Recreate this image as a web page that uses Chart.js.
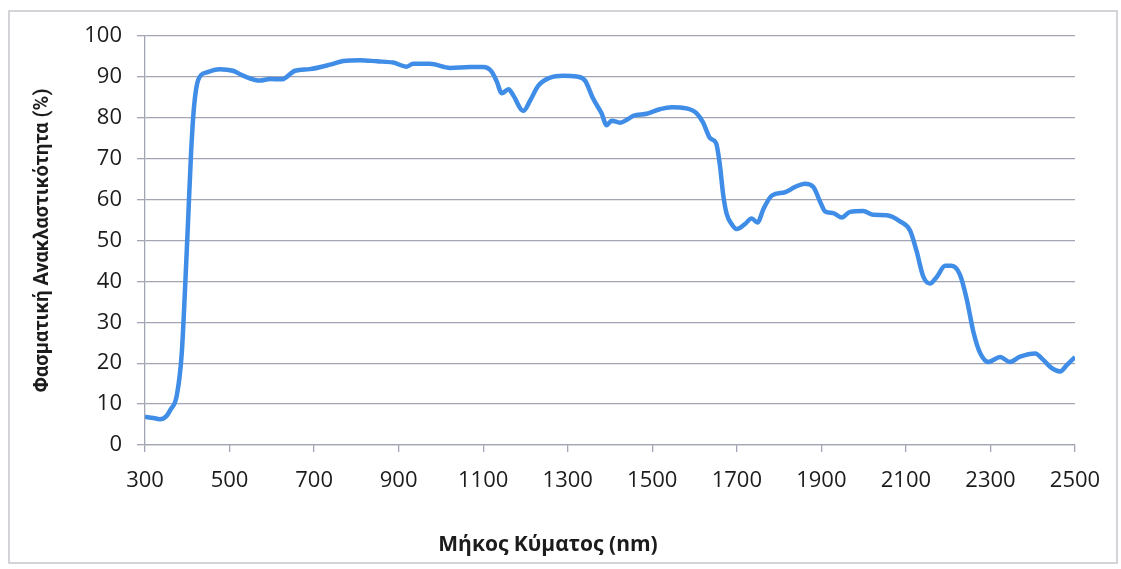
<!DOCTYPE html>
<html>
<head>
<meta charset="utf-8">
<script src="https://cdn.jsdelivr.net/npm/chart.js@4.4.1/dist/chart.umd.min.js"></script>
<style>
  html, body { margin: 0; padding: 0; background: #ffffff; }
  #wrap { width: 1121px; height: 569px; }
</style>
</head>
<body>
<div id="wrap"><canvas id="c" width="1121" height="569"></canvas></div>
<script>
// ---- data ----
const wavelength = [300, 320, 335, 350, 360, 375, 387, 395, 402, 409, 416, 426, 446, 477, 508, 532, 572, 596, 623, 655,
  690, 738, 769, 809, 849, 887, 919, 934, 974, 1022, 1069, 1100, 1120, 1132, 1144, 1160, 1171, 1195, 1211, 1230,
  1258, 1289, 1321, 1341, 1360, 1380, 1392, 1404, 1424, 1440, 1455, 1487, 1518, 1546, 1581, 1605, 1620, 1637, 1651, 1660,
  1668, 1676, 1688, 1700, 1719, 1735, 1749, 1763, 1783, 1814, 1838, 1861, 1881, 1897, 1909, 1928, 1948, 1968, 1999, 2023,
  2054, 2086, 2110, 2125, 2141, 2157, 2173, 2193, 2208, 2228, 2244, 2260, 2275, 2295, 2323, 2346, 2370, 2406, 2425, 2445,
  2465, 2481, 2500];
const reflectance = [6.9, 6.6, 6.3, 7.0, 8.6, 12.0, 22.5, 38.8, 55.0, 71.5, 82.7, 89.3, 91.1, 91.9, 91.5, 90.3, 89.1, 89.5, 89.4, 91.5,
  91.9, 93.0, 93.9, 94.1, 93.8, 93.5, 92.5, 93.2, 93.2, 92.2, 92.4, 92.4, 91.3, 88.9, 86.0, 87.0, 85.5, 81.7, 84.2, 87.8,
  89.8, 90.3, 90.1, 89.1, 84.7, 81.1, 78.2, 79.3, 78.8, 79.5, 80.5, 81.0, 82.1, 82.6, 82.3, 81.1, 78.9, 75.0, 73.8, 68.4,
  61.0, 56.5, 54.0, 52.8, 54.0, 55.4, 54.4, 57.7, 61.0, 61.8, 63.1, 63.9, 63.1, 59.5, 57.1, 56.7, 55.6, 57.0, 57.2, 56.3,
  56.2, 54.7, 52.4, 47.5, 41.2, 39.5, 41.1, 43.8, 43.8, 41.6, 35.6, 27.5, 22.6, 20.3, 21.5, 20.3, 21.6, 22.4, 20.8, 18.8,
  18.0, 19.6, 21.5];
const xTickValues = [300, 500, 700, 900, 1100, 1300, 1500, 1700, 1900, 2100, 2300, 2500];
const yTickMin = 0, yTickMax = 100, yTickStep = 10;
const xTitle = 'Μήκος Κύματος (nm)';
const yTitle = 'Φασματική Ανακλαστικότητα (%)';

// ---- styles ----
const FONT = '"Open Sans", "Noto Sans", sans-serif';
const YTITLE_FONT = 'Roboto, "Open Sans", sans-serif';
const gridColor = '#a2a5b3';
const textColor = '#1c1c1c';
const lineColor = '#3f8de6';

const frame = {
  id: 'frame',
  beforeDraw(chart) {
    const ctx = chart.ctx;
    ctx.save();
    ctx.fillStyle = '#ffffff';
    ctx.fillRect(0, 0, chart.width, chart.height);
    ctx.strokeStyle = '#c4c6cc';
    ctx.lineWidth = 1.5;
    ctx.strokeRect(9, 11, 1108, 552);
    ctx.restore();
  },
  afterDraw(chart) {
    const ctx = chart.ctx;
    ctx.save();
    ctx.fillStyle = textColor;
    ctx.font = 'bold 21px ' + FONT;
    ctx.textAlign = 'center';
    ctx.textBaseline = 'middle';
    ctx.fillText(xTitle, 548, 545);
    ctx.restore();
  }
};

new Chart(document.getElementById('c'), {
  type: 'line',
  data: {
    datasets: [{
      data: wavelength.map((w, i) => ({ x: w, y: reflectance[i] })),
      borderColor: lineColor,
      borderWidth: 4.5,
      pointRadius: 0,
      fill: false,
      cubicInterpolationMode: 'monotone'
    }]
  },
  options: {
    responsive: false,
    animation: false,
    layout: { padding: { top: 36, right: 46, bottom: 0, left: 0 } },
    plugins: { legend: { display: false }, tooltip: { enabled: false } },
    scales: {
      x: {
        type: 'linear',
        min: 300, max: 2500,
        afterBuildTicks(s) { s.ticks = xTickValues.map(v => ({ value: v })); },
        afterFit(s) { s.height = 124; },
        ticks: { color: textColor, font: { family: FONT, size: 22 }, padding: 16, maxRotation: 0, autoSkip: false,
                 callback: v => String(v) },
        grid: { drawOnChartArea: false, drawTicks: true, tickLength: 7, color: gridColor, lineWidth: 1.3 },
        border: { color: gridColor, width: 1.3 }
      },
      y: {
        min: yTickMin, max: yTickMax,
        afterFit(s) { s.width = 145; },
        ticks: { stepSize: yTickStep, color: textColor, font: { family: FONT, size: 22 }, padding: 15,
                 callback: v => String(v) },
        grid: { color: gridColor, lineWidth: 1.3, tickLength: 8, drawTicks: true },
        border: { color: gridColor, width: 1.3 },
        title: { display: true, text: yTitle, color: textColor, font: { family: YTITLE_FONT, size: 20, weight: 'bold' }, padding: { top: 31, bottom: 0 } }
      }
    }
  },
  plugins: [frame]
});
</script>
</body>
</html>
